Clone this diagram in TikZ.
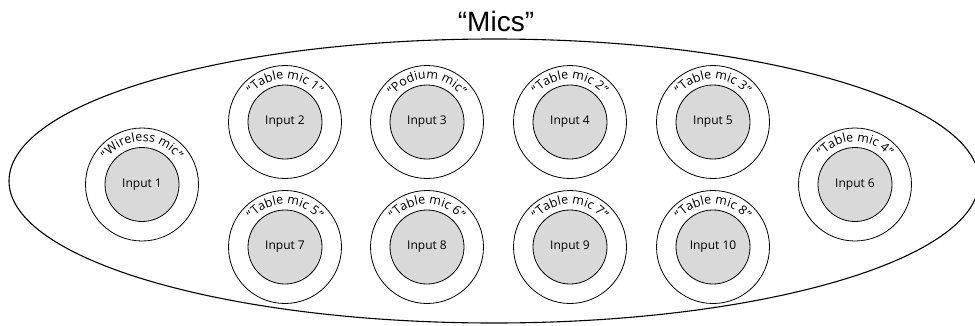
\documentclass[tikz,border=0pt]{standalone}
\usepackage{fontspec}
\setmainfont{Open Sans}
\newfontfamily\titlefont{Liberation Sans}
\usetikzlibrary{decorations.text}

\tikzset{
    micring/.style={
        circle,
        draw,
        line width=0.8pt,
        minimum size=113pt,
        inner sep=0pt
    },
    inputdisc/.style={
        circle,
        draw,
        line width=0.8pt,
        fill=gray!30,
        minimum size=74pt,
        inner sep=0pt,
        font=\fontsize{12pt}{14pt}\selectfont
    },
    miclabel/.style={
        decorate,
        decoration={
            text along path,
            text align=center,
            text={|\fontsize{12.5pt}{14pt}\selectfont|#1}
        }
    }
}

\begin{document}
\begin{tikzpicture}[x=1pt, y=1pt]

    \useasboundingbox (0,0) rectangle (975,325);

    % -------------------------------------------------------
    % Outer group
    % -------------------------------------------------------
    \draw[line width=1.1pt]
        (494,144) ellipse [x radius=485pt, y radius=142pt];

    \node[
        font=\titlefont\fontsize{28pt}{32pt}\selectfont,
        anchor=base
    ] (title) at (496,294) {“Mics”};

    % -------------------------------------------------------
    % Middle row (wireless and table mic 4)
    % -------------------------------------------------------
    \node[micring] (mic1) at (142,140.5) {};
    \node[inputdisc] (in1) at (mic1.center) {Input 1};
    \path[miclabel={“Wireless mic”}]
        ([shift={(-43pt,0pt)}]mic1.center)
        arc[start angle=180, end angle=0, radius=43pt];

    \node[micring] (mic6) at (855,140.5) {};
    \node[inputdisc] (in6) at (mic6.center) {Input 6};
    \path[miclabel={“Table mic 4”}]
        ([shift={(-43pt,0pt)}]mic6.center)
        arc[start angle=180, end angle=0, radius=43pt];

    % -------------------------------------------------------
    % Top row
    % -------------------------------------------------------
    \node[micring] (mic2) at (285,203) {};
    \node[inputdisc] (in2) at (mic2.center) {Input 2};
    \path[miclabel={“Table mic 1”}]
        ([shift={(-43pt,0pt)}]mic2.center)
        arc[start angle=180, end angle=0, radius=43pt];

    \node[micring] (mic3) at (427,203) {};
    \node[inputdisc] (in3) at (mic3.center) {Input 3};
    \path[miclabel={“Podium mic”}]
        ([shift={(-43pt,0pt)}]mic3.center)
        arc[start angle=180, end angle=0, radius=43pt];

    \node[micring] (mic4) at (570,203) {};
    \node[inputdisc] (in4) at (mic4.center) {Input 4};
    \path[miclabel={“Table mic 2”}]
        ([shift={(-43pt,0pt)}]mic4.center)
        arc[start angle=180, end angle=0, radius=43pt];

    \node[micring] (mic5) at (713,203) {};
    \node[inputdisc] (in5) at (mic5.center) {Input 5};
    \path[miclabel={“Table mic 3”}]
        ([shift={(-43pt,0pt)}]mic5.center)
        arc[start angle=180, end angle=0, radius=43pt];

    % -------------------------------------------------------
    % Bottom row
    % -------------------------------------------------------
    \node[micring] (mic7) at (285,78) {};
    \node[inputdisc] (in7) at (mic7.center) {Input 7};
    \path[miclabel={“Table mic 5”}]
        ([shift={(-43pt,0pt)}]mic7.center)
        arc[start angle=180, end angle=0, radius=43pt];

    \node[micring] (mic8) at (427,78) {};
    \node[inputdisc] (in8) at (mic8.center) {Input 8};
    \path[miclabel={“Table mic 6”}]
        ([shift={(-43pt,0pt)}]mic8.center)
        arc[start angle=180, end angle=0, radius=43pt];

    \node[micring] (mic9) at (570,78) {};
    \node[inputdisc] (in9) at (mic9.center) {Input 9};
    \path[miclabel={“Table mic 7”}]
        ([shift={(-43pt,0pt)}]mic9.center)
        arc[start angle=180, end angle=0, radius=43pt];

    \node[micring] (mic10) at (713,78) {};
    \node[inputdisc] (in10) at (mic10.center) {Input 10};
    \path[miclabel={“Table mic 8”}]
        ([shift={(-43pt,0pt)}]mic10.center)
        arc[start angle=180, end angle=0, radius=43pt];

\end{tikzpicture}
\end{document}
